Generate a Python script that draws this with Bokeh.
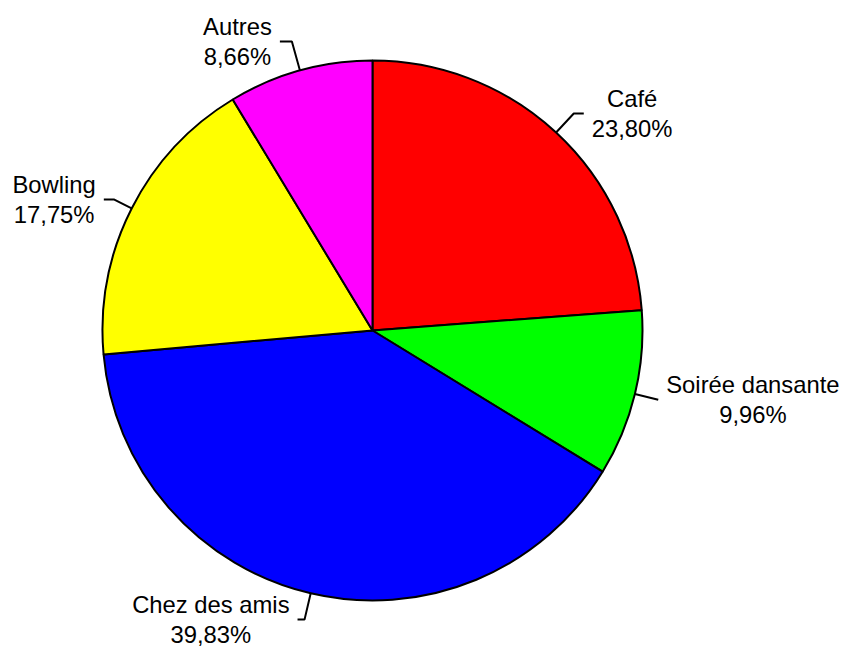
import math
from bokeh.plotting import figure
from bokeh.models import Range1d
from bokeh.core.properties import value
from bokeh.embed import file_html
from bokeh.resources import INLINE

# ---- data ----
categories = ["Café", "Soirée dansante", "Chez des amis", "Bowling", "Autres"]
percents = [23.80, 9.96, 39.83, 17.75, 8.66]
colors = ["#ff0000", "#00ff00", "#0000ff", "#ffff00", "#ff00ff"]

# ---- layout (reference pixel space, y flipped) ----
W, H = 848, 653
CX, CY, R = 372.0, H - 330.0, 270.0
r_out = [296, 294, 297, 290, 300]
elbow = [10, 0, 7, 10, 12]
gap = 8
font_px = "23.8px"

p = figure(width=W, height=H, output_backend="svg", toolbar_location=None,
           x_range=Range1d(0, W), y_range=Range1d(0, H),
           min_border=0, outline_line_color=None, background_fill_color="white",
           border_fill_color="white")
p.axis.visible = False
p.grid.visible = False

total = sum(percents)
starts, ends, mids = [], [], []
cum = 0.0
for v in percents:
    a0 = cum / total * 2 * math.pi
    cum += v
    a1 = cum / total * 2 * math.pi
    starts.append(math.pi / 2 - a0)
    ends.append(math.pi / 2 - a1)
    mids.append((a0 + a1) / 2)

p.wedge(x=[CX] * len(percents), y=[CY] * len(percents), radius=R,
        start_angle=starts, end_angle=ends, direction="clock",
        fill_color=colors, line_color="black", line_width=2)

for i, (cat, v, th) in enumerate(zip(categories, percents, mids)):
    sx, sy = math.sin(th), math.cos(th)
    ex, ey = CX + R * sx, CY + R * sy
    ox, oy = CX + r_out[i] * sx, CY + r_out[i] * sy
    side = 1 if sx > 0 else -1
    hx = ox + side * elbow[i]
    p.line([ex, ox, hx], [ey, oy, oy], line_color="black", line_width=2)
    label = cat + "\n" + f"{v:.2f}".replace(".", ",") + "%"
    p.text(x=[hx + side * gap], y=[oy], text=[label],
           anchor="center_left" if side > 0 else "center_right",
           text_align="center", text_baseline="middle",
           text_font=value("Liberation Sans"), text_font_size=font_px,
           text_color="black", text_line_height=1.12)

open("out.html", "w").write(file_html(p, INLINE))
